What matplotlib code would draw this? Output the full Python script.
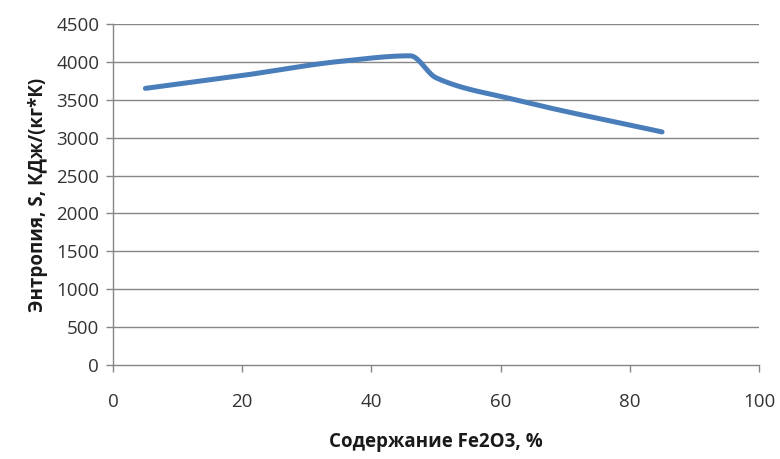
import numpy as np
import matplotlib
matplotlib.use("Agg")
import matplotlib.pyplot as plt

plt.rcParams['font.family'] = ['Open Sans', 'DejaVu Sans']

fe2o3 = [5, 20, 35, 46, 50, 62, 85]
entropy = [3650, 3820, 4005, 4080, 3790, 3505, 3075]
x_ticks = [0, 20, 40, 60, 80, 100]
y_ticks = [0, 500, 1000, 1500, 2000, 2500, 3000, 3500, 4000, 4500]


def pchip(x, y, xs):
    x = np.asarray(x, float)
    y = np.asarray(y, float)
    h = np.diff(x)
    d = np.diff(y) / h
    n = len(x)
    m = np.zeros(n)
    for k in range(1, n - 1):
        if d[k - 1] * d[k] > 0:
            w1 = 2 * h[k] + h[k - 1]
            w2 = h[k] + 2 * h[k - 1]
            m[k] = (w1 + w2) / (w1 / d[k - 1] + w2 / d[k])
    m[0] = d[0]
    m[-1] = d[-1]
    ys = np.empty_like(xs)
    for i, xv in enumerate(xs):
        k = min(np.searchsorted(x, xv, side='right') - 1, n - 2)
        k = max(k, 0)
        t = (xv - x[k]) / h[k]
        h00 = 2 * t**3 - 3 * t**2 + 1
        h10 = t**3 - 2 * t**2 + t
        h01 = -2 * t**3 + 3 * t**2
        h11 = t**3 - t**2
        ys[i] = h00 * y[k] + h10 * h[k] * m[k] + h01 * y[k + 1] + h11 * h[k] * m[k + 1]
    return ys


xs = np.linspace(fe2o3[0], fe2o3[-1], 600)
ys = pchip(fe2o3, entropy, xs)

fig = plt.figure(figsize=(7.8, 4.59), dpi=100)
ax = fig.add_axes([0.145, 0.2048, 0.828, 0.743])

grid_c = '#868686'
ax.set_xlim(0, 100)
ax.set_ylim(0, 4500)
ax.set_xticks(x_ticks)
ax.set_yticks(y_ticks)
for v in y_ticks[1:]:
    ax.axhline(v, color=grid_c, lw=1.0, zorder=1)

ax.plot(xs, ys, color='#4A7EBB', lw=3.6, solid_capstyle='round', zorder=3)

for s in ['top', 'right']:
    ax.spines[s].set_visible(False)
for s in ['left', 'bottom']:
    ax.spines[s].set_color(grid_c)
    ax.spines[s].set_linewidth(1.0)

ax.tick_params(axis='both', colors=grid_c, length=5, width=1.0, labelcolor='#333333', labelsize=13.5)
ax.tick_params(axis='x', pad=15)
ax.tick_params(axis='y', pad=5)

ax.set_xlabel('Содержание Fe2O3, %', fontsize=13.5, fontweight='bold', color='#1a1a1a', labelpad=15)
ax.set_ylabel('Энтропия, S, КДж/(кг*К)', fontsize=13.5, fontweight='bold', color='#1a1a1a', labelpad=6)

fig.savefig('out.png', dpi=100)
